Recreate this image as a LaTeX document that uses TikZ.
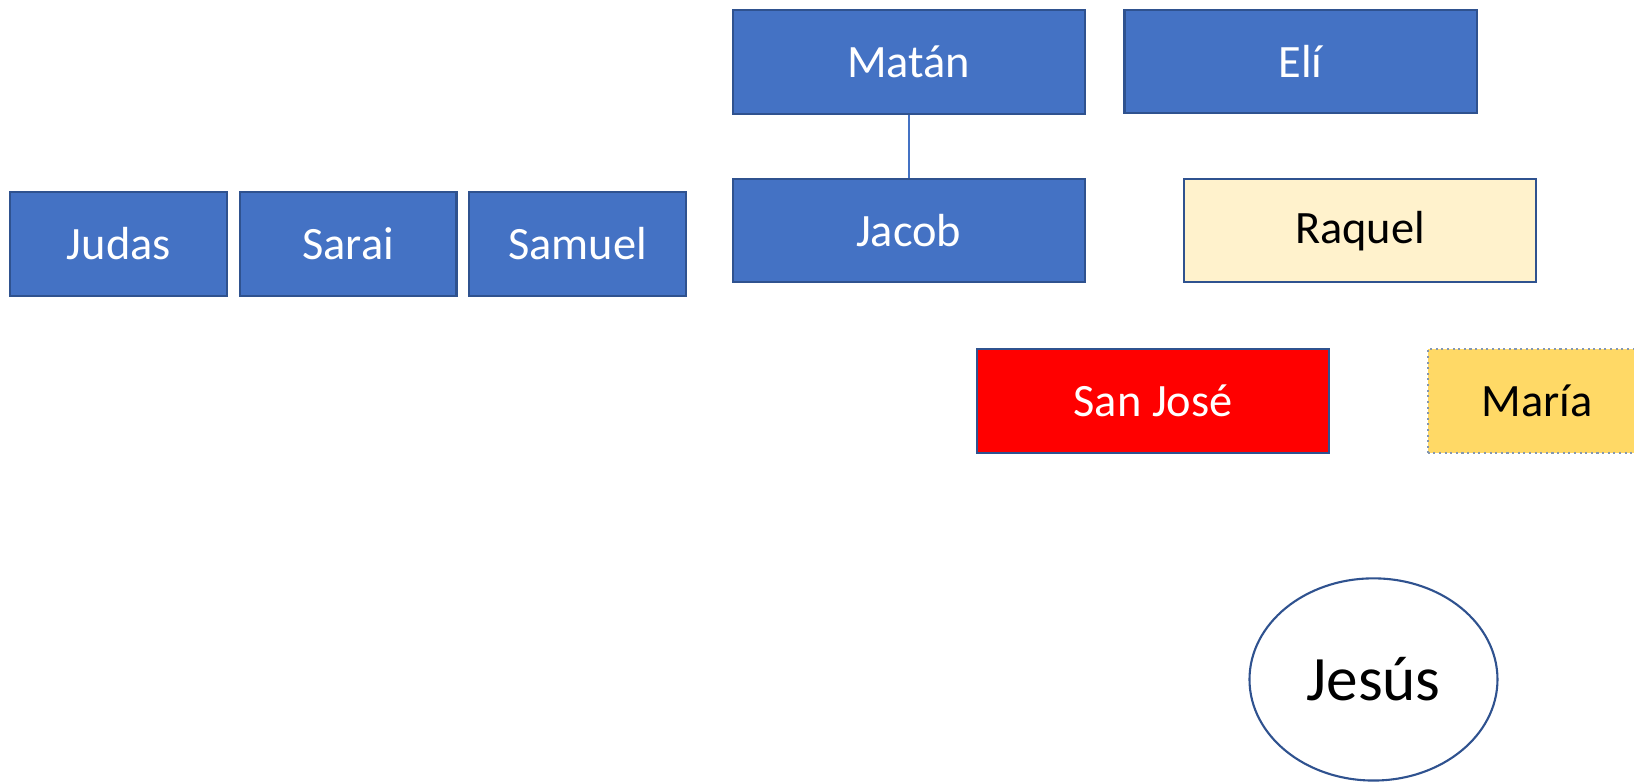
\documentclass[tikz,border=0pt]{standalone}
\usepackage{fontspec}
\setmainfont{Carlito}
\usetikzlibrary{positioning}
\usetikzlibrary{shapes.geometric}
\usepackage{xcolor}
\definecolor{boxblue}{HTML}{4472C4}
\definecolor{edgeblue}{HTML}{2F528F}
\definecolor{paleyellow}{HTML}{FFF2CC}
\definecolor{goldyellow}{HTML}{FFD966}
\definecolor{dotgray}{HTML}{8497B0}

\begin{document}
\begin{tikzpicture}[x=0.010421cm, y=-0.010421cm,
	main/.style = {draw=edgeblue, line width=0.6pt, fill=boxblue, text=white, minimum width=3.522cm, minimum height=1.032cm, inner sep=0pt, font=\fontsize{13.2}{16}\selectfont},
	small/.style = {main, minimum width=2.168cm, minimum height=1.042cm},
	node distance=0.1042cm]
		\useasboundingbox (0,0) rectangle (1568,750.4);
		\clip (0,0) rectangle (1568,750.4);
		\node[small] (judas) at (114,234) {Judas};
		\node[small] (sarai) [right=of judas] {Sarai};
		\node[small] (samuel) [right=of sarai] {Samuel};
		\node[main] (matan) at (872,59.5) {Matán};
		\node[main] (eli) at (1248,59) {Elí};
		\node[main] (jacob) at (872,221.5) {Jacob};
		\node[main, fill=paleyellow, text=black] (raquel) at (1305,221.5) {Raquel};
		\node[main, fill=red, minimum height=1.042cm] (jose) at (1106.5,385) {San José};
		\node[main, fill=goldyellow, text=black, draw=dotgray, densely dotted, minimum height=1.042cm] (maria) at (1539,385) {\hspace*{-1.34cm}María};
		\node[ellipse, draw=edgeblue, line width=0.6pt, minimum width=2.48cm, minimum height=2.022cm, inner sep=0pt, font=\fontsize{18}{21}\selectfont] (jesus) at (1318,652) {Jesús};
		\draw[-, boxblue, line width=0.5pt] (matan) -- (jacob);
	\end{tikzpicture}
\end{document}
